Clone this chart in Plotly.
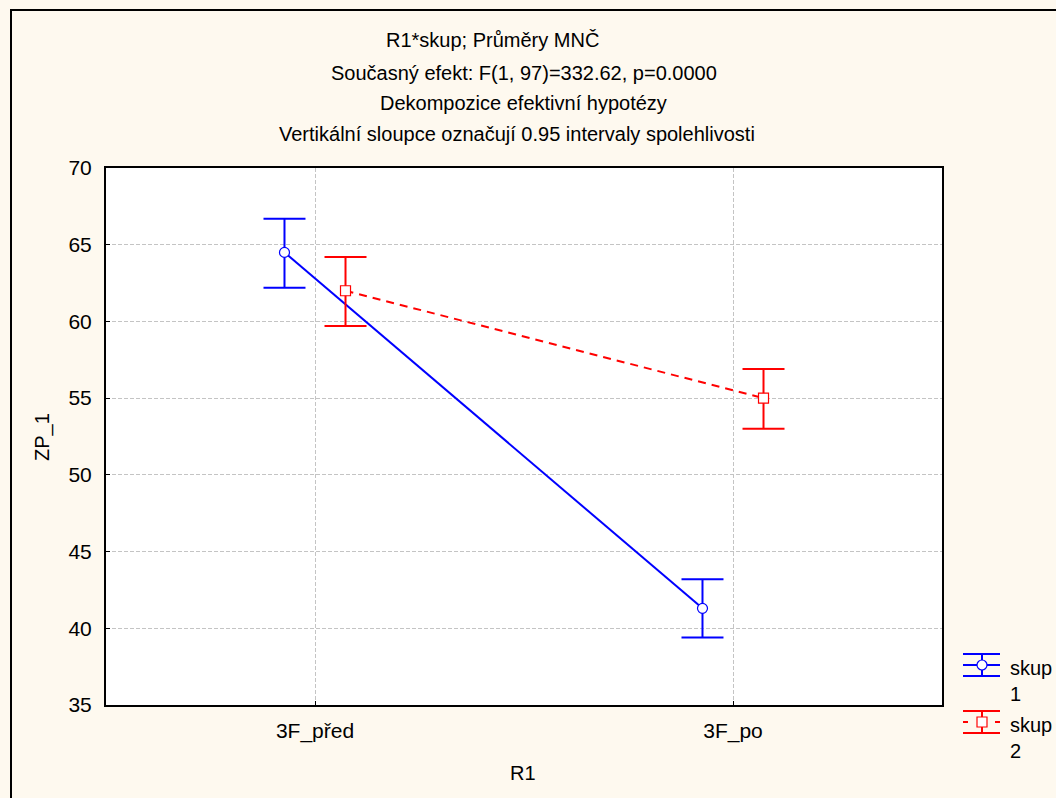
import plotly.graph_objects as go

# ---- data ----
categories = ["3F_před", "3F_po"]
group_names = ["skup<br>1", "skup<br>2"]
skup1_mean = [64.5, 41.3]
skup1_upper = [66.7, 43.2]
skup1_lower = [62.2, 39.4]
skup2_mean = [62.0, 55.0]
skup2_upper = [64.2, 56.9]
skup2_lower = [59.7, 53.0]
y_ticks = [35, 40, 45, 50, 55, 60, 65, 70]
title_lines = [
    "R1*skup; Průměry MNČ",
    "Současný efekt: F(1, 97)=332.62, p=0.0000",
    "Dekompozice efektivní hypotézy",
    "Vertikální sloupce označují 0.95 intervaly spolehlivosti",
]

FONT = "Arial, 'Liberation Sans', sans-serif"
BLUE = "#0000FF"
RED = "#FF0000"
W, H = 1056, 798
L, R, T, B = 106, 942, 168, 705


def px(x):
    return (x - L) / (R - L)


def py(y):
    return (B - y) / (B - T)


offset = 0.073
xbase = list(range(len(categories)))
x1 = [v - offset for v in xbase]
x2 = [v + offset for v in xbase]

fig = go.Figure()
fig.add_trace(go.Scatter(
    x=x1, y=skup1_mean, mode="lines+markers", name=group_names[0],
    line=dict(color=BLUE, width=2),
    marker=dict(symbol="circle", size=10, color="white", line=dict(color=BLUE, width=1.2)),
    error_y=dict(type="data", symmetric=False,
                 array=[u - m for u, m in zip(skup1_upper, skup1_mean)],
                 arrayminus=[m - l for m, l in zip(skup1_mean, skup1_lower)],
                 color=BLUE, thickness=2, width=21),
    showlegend=False,
))
fig.add_trace(go.Scatter(
    x=x2, y=skup2_mean, mode="lines+markers", name=group_names[1],
    line=dict(color=RED, width=2, dash="8px,6px"),
    marker=dict(symbol="square", size=10, color="white", line=dict(color=RED, width=1.2)),
    error_y=dict(type="data", symmetric=False,
                 array=[u - m for u, m in zip(skup2_upper, skup2_mean)],
                 arrayminus=[m - l for m, l in zip(skup2_mean, skup2_lower)],
                 color=RED, thickness=2, width=21),
    showlegend=False,
))

annotations = []
title_pos = [(492, 40), (524, 73), (523, 103), (517, 134)]
for text, (tx, ty) in zip(title_lines, title_pos):
    annotations.append(dict(text=text, x=px(tx), y=py(ty), xref="paper", yref="paper",
                            xanchor="center", yanchor="middle", showarrow=False,
                            font=dict(family=FONT, size=20, color="black")))
annotations.append(dict(text="ZP_1", x=px(42), y=py(437), xref="paper", yref="paper",
                        textangle=-90, xanchor="center", yanchor="middle", showarrow=False,
                        font=dict(family=FONT, size=20, color="black")))
annotations.append(dict(text="R1", x=px(523), y=py(773), xref="paper", yref="paper",
                        xanchor="center", yanchor="middle", showarrow=False,
                        font=dict(family=FONT, size=20, color="black")))

shapes = [
    dict(type="rect", xref="paper", yref="paper", x0=px(11), y0=py(10), x1=px(1080), y1=py(820),
         line=dict(color="black", width=2), fillcolor="rgba(0,0,0,0)", layer="below"),
]

# custom legend
legend_items = [(BLUE, "solid", "circle", 665, group_names[0]), (RED, "dash", "square", 722, group_names[1])]
for color, dash, sym, cy, name in legend_items:
    lx0, lx1, cx = 963, 1000, 982
    shapes.append(dict(type="line", xref="paper", yref="paper", x0=px(lx0), x1=px(lx1),
                       y0=py(cy - 11), y1=py(cy - 11), line=dict(color=color, width=2)))
    shapes.append(dict(type="line", xref="paper", yref="paper", x0=px(lx0), x1=px(lx1),
                       y0=py(cy + 11), y1=py(cy + 11), line=dict(color=color, width=2)))
    shapes.append(dict(type="line", xref="paper", yref="paper", x0=px(cx), x1=px(cx),
                       y0=py(cy - 11), y1=py(cy + 11), line=dict(color=color, width=2)))
    if dash == "solid":
        shapes.append(dict(type="line", xref="paper", yref="paper", x0=px(lx0), x1=px(lx1),
                           y0=py(cy), y1=py(cy), line=dict(color=color, width=2)))
    else:
        shapes.append(dict(type="line", xref="paper", yref="paper", x0=px(lx0), x1=px(lx0 + 5),
                           y0=py(cy), y1=py(cy), line=dict(color=color, width=2)))
        shapes.append(dict(type="line", xref="paper", yref="paper", x0=px(lx1 - 5), x1=px(lx1),
                           y0=py(cy), y1=py(cy), line=dict(color=color, width=2)))
    stype = "circle" if sym == "circle" else "rect"
    shapes.append(dict(type=stype, xref="paper", yref="paper", x0=px(cx - 5), x1=px(cx + 5),
                       y0=py(cy - 5), y1=py(cy + 5), fillcolor="white",
                       line=dict(color=color, width=1.2)))
    annotations.append(dict(text=name, x=px(1008), y=py(cy + 3), xref="paper", yref="paper",
                            xanchor="left", yanchor="top", align="left", showarrow=False,
                            yshift=13,
                            font=dict(family=FONT, size=20, color="black")))

fig.update_layout(
    width=W, height=H,
    margin=dict(l=L, r=W - R, t=T, b=H - B, pad=0),
    paper_bgcolor="#FEF9EF",
    plot_bgcolor="white",
    font=dict(family=FONT, size=20, color="black"),
    showlegend=False,
    annotations=annotations,
    shapes=shapes,
    xaxis=dict(range=[-0.5, 1.5], tickmode="array", tickvals=xbase, ticktext=categories,
               showgrid=True, gridcolor="#C4C4C4", griddash="4px,2px", gridwidth=1,
               showline=True, linecolor="black", linewidth=2, mirror=True,
               ticks="inside", ticklen=4, tickcolor="black", zeroline=False,
               ticklabelstandoff=6,
               tickfont=dict(family=FONT, size=21)),
    yaxis=dict(range=[35, 70], tickmode="array", tickvals=y_ticks,
               showgrid=True, gridcolor="#C4C4C4", griddash="4px,2px", gridwidth=1,
               showline=True, linecolor="black", linewidth=2, mirror=True,
               ticks="inside", ticklen=4, tickcolor="black", zeroline=False,
               ticklabelstandoff=8,
               tickfont=dict(family=FONT, size=21)),
)

fig.write_html("out.html")
